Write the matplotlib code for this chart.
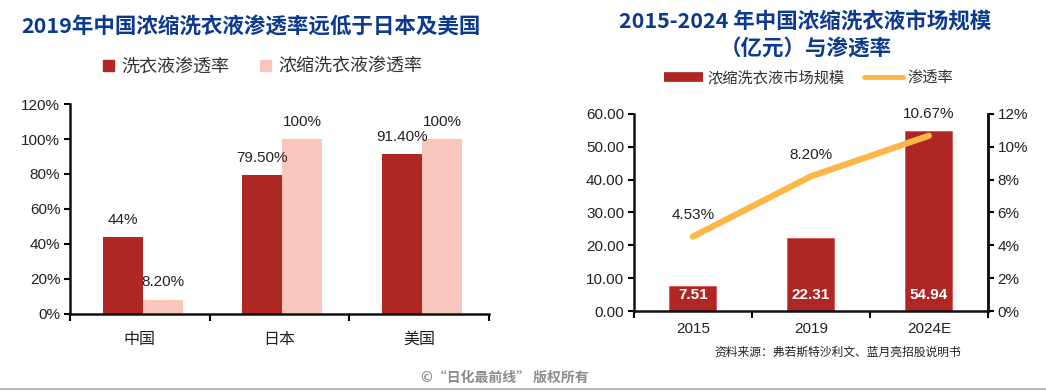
import matplotlib
matplotlib.use('Agg')
import matplotlib.pyplot as plt
from matplotlib.lines import Line2D
from matplotlib.patches import Patch
import numpy as np

plt.rcParams['font.family'] = ['Liberation Sans', 'Noto Sans CJK SC', 'DejaVu Sans']

# left chart data
countries = ['中国', '日本', '美国']
pen_all = [44.0, 79.5, 91.4]          # 洗衣液渗透率 %
pen_conc = [8.2, 100.0, 100.0]        # 浓缩洗衣液渗透率 %
lab_all = ['44%', '79.50%', '91.40%']
lab_conc = ['8.20%', '100%', '100%']

# right chart data
years = ['2015', '2019', '2024E']
market = [7.51, 22.31, 54.94]         # 亿元
share = [4.53, 8.20, 10.67]           # %

DARK = '#AE2724'
PINK = '#F9C6BB'
ORANGE = '#FDB747'
BLUE = '#0B3A8E'
TXT = '#222222'
CJK = ['Noto Sans CJK SC', 'DejaVu Sans']

fig = plt.figure(figsize=(10.46, 3.91), dpi=100)

# ---------------- left chart ----------------
ax1 = fig.add_axes([0.0669, 0.197, 0.4006, 0.537])
x = np.arange(len(countries))
w = 0.286
ax1.bar(x - w / 2 + 0.02, pen_all, w, color=DARK, label='洗衣液渗透率')
ax1.bar(x + w / 2 + 0.02, pen_conc, w, color=PINK, label='浓缩洗衣液渗透率')
for i in range(len(countries)):
    ax1.annotate(lab_all[i], (x[i] - w / 2 + 0.02, pen_all[i]), xytext=(0, 12.5),
                 textcoords='offset points', ha='center', va='center', fontsize=11, color=TXT)
    ax1.annotate(lab_conc[i], (x[i] + w / 2 + 0.02, pen_conc[i]), xytext=(0, 12.5),
                 textcoords='offset points', ha='center', va='center', fontsize=11, color=TXT)
ax1.set_xlim(-0.5, 2.5)
ax1.set_ylim(0, 120)
ax1.set_yticks(np.arange(0, 121, 20))
ax1.set_yticklabels([f'{v}%' for v in range(0, 121, 20)], fontsize=11, color=TXT)
ax1.set_xticks(x)
ax1.set_xticklabels(countries, fontsize=11.5, color=TXT, family=CJK)
ax1.set_xticks([-0.5, 0.5, 1.5, 2.5], minor=True)
ax1.tick_params(axis='x', which='major', length=0, pad=12)
ax1.tick_params(axis='x', which='minor', length=5, width=1.5, direction='out')
ax1.tick_params(axis='y', length=4, width=1.5, direction='out', pad=3)
for s in ['top', 'right']:
    ax1.spines[s].set_visible(False)
for s in ['left', 'bottom']:
    ax1.spines[s].set_linewidth(1.8)
    ax1.spines[s].set_color('#111111')

fig.text(0.240, 0.931, '2019年中国浓缩洗衣液渗透率远低于日本及美国', ha='center', va='center',
         fontsize=15.5, fontweight='bold', color=BLUE, family=CJK)
h1 = [Patch(color=DARK), Patch(color=PINK)]
fig.legend(h1, ['洗衣液渗透率', '浓缩洗衣液渗透率'], loc='center', bbox_to_anchor=(0.251, 0.829),
           ncol=2, frameon=False, handlelength=0.6, handleheight=0.6, handletextpad=0.4,
           columnspacing=1.7, prop={'family': CJK, 'size': 13}, labelcolor='#333333')

# ---------------- right chart ----------------
ax2 = fig.add_axes([0.606, 0.2046, 0.3384, 0.504])
xr = np.arange(len(years))
ax2.bar(xr, market, 0.4, color=DARK, edgecolor='#D9534F', linewidth=0.6)
for i in range(len(years)):
    ax2.annotate(f'{market[i]:.2f}', (xr[i], 0), xytext=(0, 11.5), textcoords='offset points',
                 ha='center', va='center', fontsize=11, fontweight='bold', color='white')
ax2.set_xlim(-0.5, 2.5)
ax2.set_ylim(0, 60)
ax2.set_yticks(np.arange(0, 61, 10))
ax2.set_yticklabels([f'{v:.2f}' for v in range(0, 61, 10)], fontsize=11, color=TXT)
ax2.set_xticks(xr)
ax2.set_xticklabels(years, fontsize=11, color=TXT)
ax2.set_xticks([-0.5, 0.5, 1.5, 2.5], minor=True)
ax2.tick_params(axis='x', which='major', length=0, pad=8)
ax2.tick_params(axis='x', which='minor', length=5, width=1.5, direction='out')
ax2.tick_params(axis='y', length=4, width=1.5, direction='out', pad=3)
ax2.spines['top'].set_visible(False)
for s in ['left', 'bottom', 'right']:
    ax2.spines[s].set_linewidth(1.8)
    ax2.spines[s].set_color('#111111')

ax3 = ax2.twinx()
ax3.plot(xr, share, color=ORANGE, linewidth=4.5, solid_capstyle='round')
for i in range(len(years)):
    ax3.annotate(f'{share[i]:.2f}%', (xr[i], share[i]), xytext=(0, 15.5), textcoords='offset points',
                 ha='center', va='center', fontsize=11, color=TXT)
ax3.set_ylim(0, 12)
ax3.set_yticks(np.arange(0, 13, 2))
ax3.set_yticklabels([f'{v}%' for v in range(0, 13, 2)], fontsize=11, color=TXT)
ax3.tick_params(axis='y', length=4, width=1.5, direction='out', pad=3)
for s in ['top', 'left', 'bottom']:
    ax3.spines[s].set_visible(False)
ax3.spines['right'].set_linewidth(1.8)
ax3.spines['right'].set_color('#111111')

fig.text(0.770, 0.943, '2015-2024 年中国浓缩洗衣液市场规模', ha='center', va='center',
         fontsize=15.5, fontweight='bold', color=BLUE, family=CJK)
fig.text(0.770, 0.874, '（亿元）与渗透率', ha='center', va='center',
         fontsize=15.5, fontweight='bold', color=BLUE, family=CJK)
h2 = [Line2D([], [], color=DARK, lw=7, solid_capstyle='butt'),
      Line2D([], [], color=ORANGE, lw=3.5, solid_capstyle='round')]
fig.legend(h2, ['浓缩洗衣液市场规模', '渗透率'], loc='center', bbox_to_anchor=(0.773, 0.800),
           ncol=2, frameon=False, handlelength=2.55, handletextpad=0.3, columnspacing=1.3,
           prop={'family': CJK, 'size': 11}, labelcolor='#333333')

fig.text(0.683, 0.100, '资料来源：弗若斯特沙利文、蓝月亮招股说明书', ha='left', va='center',
         fontsize=8.5, color='#222222', family=CJK, style='italic')

fig.text(0.483, 0.033, '©“日化最前线” 版权所有', ha='center', va='center',
         fontsize=10, fontweight='bold', color='#8C8C8C', family=CJK)
fig.add_artist(Line2D([0, 1], [0.005, 0.005], transform=fig.transFigure, color='#BBBBBB', lw=1.5))

fig.savefig('out.png', dpi=100)
